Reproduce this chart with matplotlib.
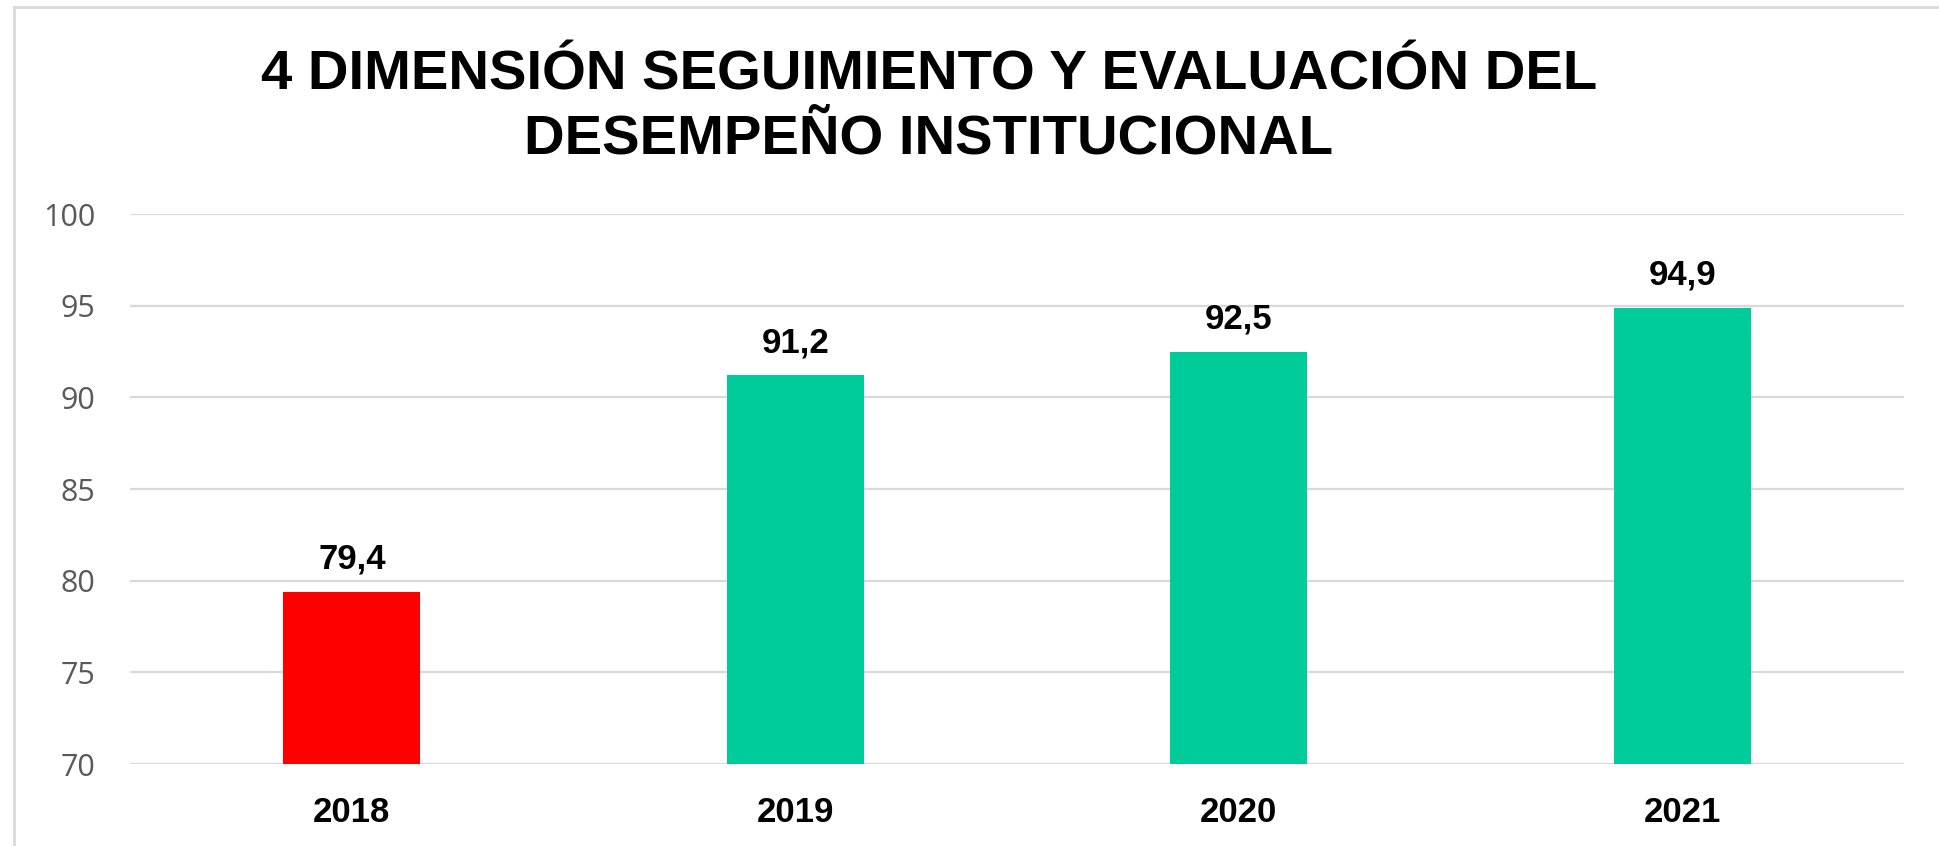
import matplotlib
matplotlib.use("Agg")
import matplotlib.pyplot as plt
from matplotlib.lines import Line2D

categories = ["2018", "2019", "2020", "2021"]
values = [79.4, 91.2, 92.5, 94.9]
bar_colors = ["#FF0000", "#00CC99", "#00CC99", "#00CC99"]
yticks = [70, 75, 80, 85, 90, 95, 100]
title_lines = ["4 DIMENSIÓN SEGUIMIENTO Y EVALUACIÓN DEL", "DESEMPEÑO INSTITUCIONAL"]

W, H = 1939, 846
fig = plt.figure(figsize=(W / 100, H / 100), dpi=100)
fig.patch.set_facecolor("white")

ax = fig.add_axes([130 / W, 1 - 764 / H, (1904 - 130) / W, (764 - 214) / H])
x = list(range(len(categories)))
ax.bar(x, values, width=0.31, color=bar_colors, zorder=3)
ax.set_xlim(-0.5, len(categories) - 0.5)
ax.set_ylim(70, 100)
ax.set_yticks(yticks)
ax.set_yticklabels([str(t) for t in yticks], fontsize=22, color="#595959",
                   family="Open Sans")
ax.set_xticks(x)
ax.set_xticklabels(categories, fontsize=25, fontweight="bold", color="black",
                   family="Liberation Sans")
ax.tick_params(axis="y", length=0, pad=25)
ax.tick_params(axis="x", length=0, pad=23)
for s in ax.spines.values():
    s.set_visible(False)
ax.grid(axis="y", color="#D9D9D9", linewidth=1.6, zorder=0)
ax.set_axisbelow(True)

for xi, v in zip(x, values):
    ax.annotate(f"{v:.1f}".replace(".", ","), (xi, v), xytext=(0, 23),
                textcoords="offset pixels", ha="center", va="baseline",
                fontsize=25, fontweight="bold", color="black",
                family="Liberation Sans")

fig.text(0.479, 1 - 90 / H, title_lines[0], ha="center", va="baseline",
         fontsize=40.5, fontweight="bold", family="Liberation Sans")
fig.text(0.479, 1 - 153 / H, title_lines[1], ha="center", va="baseline",
         fontsize=40.5, fontweight="bold", family="Liberation Sans")

# chart border (left and top visible)
fig.add_artist(Line2D([14 / W, 14 / W], [0, 1 - 7 / H], transform=fig.transFigure,
                      color="#D9D9D9", linewidth=2))
fig.add_artist(Line2D([14 / W, 1], [1 - 7 / H, 1 - 7 / H], transform=fig.transFigure,
                      color="#D9D9D9", linewidth=2))

fig.savefig("out.png", dpi=100)
